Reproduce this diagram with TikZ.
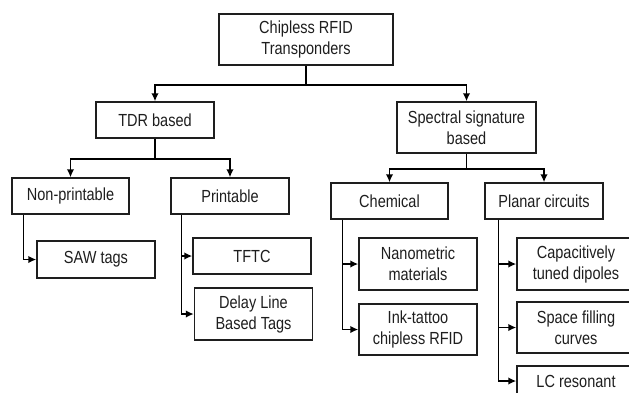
\documentclass[tikz,border=0pt]{standalone}
\usepackage{fontspec}
\setmainfont[FakeStretch=0.83]{Liberation Sans}
\usetikzlibrary{arrows.meta}
\definecolor{boxgray}{RGB}{30,30,30}
\tikzset{
  box/.style={
    draw=boxgray,
    line width=1.5pt,
    align=center,
    inner sep=0pt,
    minimum width=118pt,
    minimum height=36pt,
    text=boxgray,
    font=\fontsize{17.5}{21}\selectfont
  },
  box-tall/.style={box, minimum height=51pt},
  link/.style={line width=1.5pt, draw=black, -{Latex[length=8pt,width=7.5pt]}}
}

\begin{document}
\begin{tikzpicture}[x=1pt, y=-1pt]
  \useasboundingbox (0,0) rectangle (629,392);
  \clip (0,0) rectangle (629,392);
  % Top levels
  \node[box-tall, minimum width=174pt] (root) at (306,39.5) {Chipless RFID\\Transponders};
  \node[box] (tdr) at (155,120) {TDR based};
  \node[box-tall, minimum width=139pt] (spectral) at (466.5,127.5) {Spectral signature\\based};
  \node[box, minimum width=117pt] (nonprint) at (70.5,196) {Non-printable};
  \node[box] (print) at (230,196) {Printable};
  \node[box, minimum width=117pt] (chemical) at (389.5,201) {Chemical};
  \node[box] (planar) at (544,201) {Planar circuits};
  % Leaves
  \node[box, minimum height=37pt] (saw) at (96,259.5) {SAW tags};
  \node[box] (tftc) at (252,256) {TFTC};
  \node[box-tall, minimum height=52pt] (delay) at (253.5,314) {Delay Line\\Based Tags};
  \node[box-tall, minimum height=52pt] (nano) at (418,264) {Nanometric\\materials};
  \node[box-tall] (ink) at (418,329.5) {Ink-tattoo\\chipless RFID};
  \node[box-tall, minimum height=52pt] (capac) at (576,264) {Capacitively\\tuned dipoles};
  \node[box-tall] (space) at (576,327.5) {Space filling\\curves};
  \node[box, minimum height=30pt] (lc) at (576,381) {LC resonant};
  % Draw branches
  \foreach \child in {tdr,spectral} {
    \draw[link] (root.south) -- ++(0,19) -| (\child.north);
  }
  \foreach \child in {nonprint,print} {
    \draw[link] (tdr.south) -- ++(0,20) -| (\child.north);
  }
  \foreach \child in {chemical,planar} {
    \draw[link] (spectral.south) -- ++(0,15) -| (\child.north);
  }
  % Draw lists
  \draw[link] ([xshift=12pt]nonprint.south west) |- (saw.west);
  \foreach \child in {tftc,delay} {
    \draw[link] ([xshift=11pt]print.south west) |- (\child.west);
  }
  \foreach \child in {nano,ink} {
    \draw[link] ([xshift=12pt]chemical.south west) |- (\child.west);
  }
  \foreach \child in {capac,space,lc} {
    \draw[link] ([xshift=14pt]planar.south west) |- (\child.west);
  }
\end{tikzpicture}
\end{document}
